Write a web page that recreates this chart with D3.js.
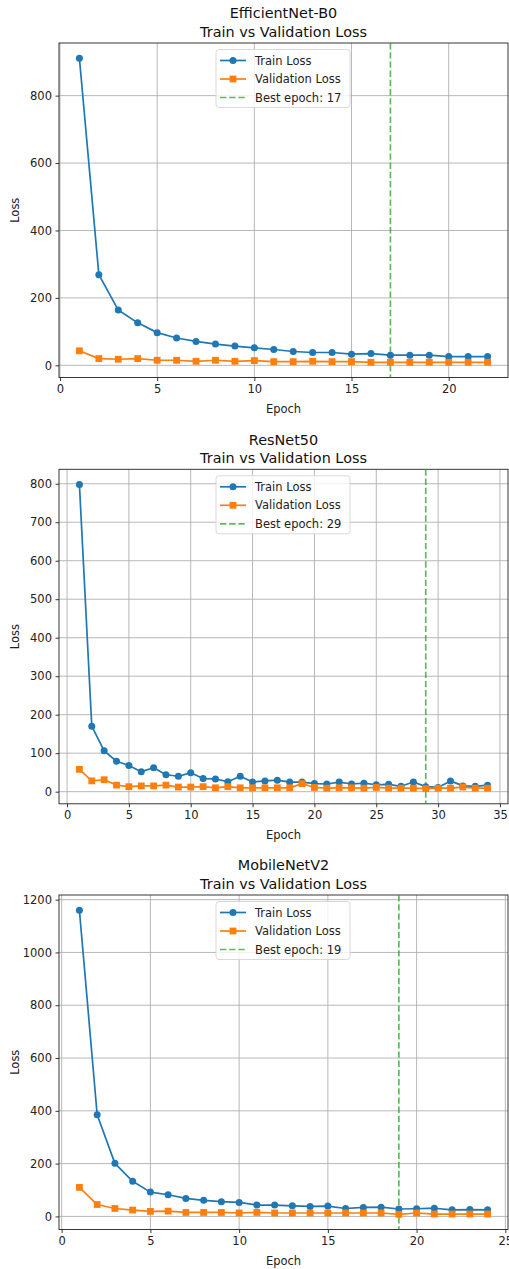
<!DOCTYPE html>
<html>
<head>
<meta charset="utf-8">
<script src="https://cdn.jsdelivr.net/npm/d3@7"></script>
<style>
  html, body { margin: 0; padding: 0; background: #ffffff; }
  svg { display: block; font-family: "DejaVu Sans", sans-serif; }
</style>
</head>
<body>
<svg id="chart" width="509" height="1269"></svg>
<script>
// ---- Loss history per model ----
const effTrain = [911, 269, 164, 126, 97, 81, 71, 63, 57, 52, 47, 41, 38, 38, 33, 35, 30, 30, 30, 26, 26, 26];
const effVal   = [43, 20, 18, 20, 15, 15, 12, 15, 12, 14, 11, 11, 12, 11, 11, 9, 9, 9, 9, 9, 9, 9];
const effBest  = 17;

const resTrain = [798, 170, 106, 79, 68, 52, 62, 44, 40, 49, 34, 33, 26, 40, 25, 28, 30, 25, 25, 21,
                  20, 25, 20, 22, 18, 19, 14, 25, 13, 11, 28, 15, 14, 17];
const resVal   = [58, 28, 31, 17, 13, 15, 15, 17, 12, 12, 13, 10, 13, 10, 10, 10, 10, 10, 21, 11,
                  9, 10, 10, 9, 11, 9, 9, 9, 8, 9, 9, 12, 9, 9];
const resBest  = 29;

const mobTrain = [1160, 385, 201, 133, 92, 82, 68, 61, 56, 53, 43, 43, 40, 38, 39, 30, 34, 35, 28, 29, 31, 25, 26, 25];
const mobVal   = [110, 45, 30, 24, 19, 20, 15, 15, 15, 13, 15, 13, 13, 13, 13, 13, 13, 13, 8, 13, 9, 9, 9, 9];
const mobBest  = 19;

// ---- Tick values ----
const effXTicks = [0, 5, 10, 15, 20];
const effYTicks = [0, 200, 400, 600, 800];
const resXTicks = [0, 5, 10, 15, 20, 25, 30, 35];
const resYTicks = [0, 100, 200, 300, 400, 500, 600, 700, 800];
const mobXTicks = [0, 5, 10, 15, 20, 25];
const mobYTicks = [0, 200, 400, 600, 800, 1000, 1200];

const panels = [
  { name: "EfficientNet-B0", train: effTrain, val: effVal, best: effBest, xTicks: effXTicks, yTicks: effYTicks, top: 43 },
  { name: "ResNet50",        train: resTrain, val: resVal, best: resBest, xTicks: resXTicks, yTicks: resYTicks, top: 469.3 },
  { name: "MobileNetV2",     train: mobTrain, val: mobVal, best: mobBest, xTicks: mobXTicks, yTicks: mobYTicks, top: 895 }
];

const BLUE = "#1f77b4", ORANGE = "#ff7f0e", GREEN = "#2ca02c";
const left = 59, right = 508, plotH = 334.5;
const tickFont = 11.5, titleFont = 14.4;

const svg = d3.select("#chart");

function padded(lo, hi) {
  const m = (hi - lo) * 0.05;
  return [lo - m, hi + m];
}

function drawMarker(g, type, cx, cy, color) {
  if (type === "circle") {
    g.append("circle").attr("cx", cx).attr("cy", cy).attr("r", 3.5).attr("fill", color);
  } else {
    g.append("rect").attr("x", cx - 3.4).attr("y", cy - 3.4)
      .attr("width", 6.8).attr("height", 6.8).attr("fill", color);
  }
}

panels.forEach(p => {
  const epochs = p.train.map((_, i) => i + 1);
  const all = p.train.concat(p.val);
  const x = d3.scaleLinear().domain(padded(1, epochs.length)).range([left, right]);
  const y = d3.scaleLinear().domain(padded(d3.min(all), d3.max(all))).range([p.top + plotH, p.top]);
  const bottom = p.top + plotH;

  const g = svg.append("g");

  // grid
  g.append("g").selectAll("line").data(p.xTicks).join("line")
    .attr("x1", d => x(d)).attr("x2", d => x(d))
    .attr("y1", p.top).attr("y2", bottom)
    .attr("stroke", "#b0b0b0").attr("stroke-width", 0.9);
  g.append("g").selectAll("line").data(p.yTicks).join("line")
    .attr("x1", left).attr("x2", right)
    .attr("y1", d => y(d)).attr("y2", d => y(d))
    .attr("stroke", "#b0b0b0").attr("stroke-width", 0.9);

  // axes
  const xAxis = d3.axisBottom(x).tickValues(p.xTicks).tickSize(3.5).tickPadding(3.5).tickFormat(d3.format("d"));
  const yAxis = d3.axisLeft(y).tickValues(p.yTicks).tickSize(3.5).tickPadding(3.5).tickFormat(d3.format("d"));
  const xa = g.append("g").attr("transform", `translate(0,${bottom})`).call(xAxis);
  const ya = g.append("g").attr("transform", `translate(${left},0)`).call(yAxis);
  [xa, ya].forEach(a => {
    a.select(".domain").remove();
    a.selectAll("line").attr("stroke", "#222").attr("stroke-width", 0.9);
    a.selectAll("text").attr("fill", "#222").style("font-size", tickFont + "px")
      .style("font-family", "DejaVu Sans, sans-serif");
  });

  // spines
  g.append("rect").attr("x", left).attr("y", p.top).attr("width", right - left).attr("height", plotH)
    .attr("fill", "none").attr("stroke", "#222").attr("stroke-width", 0.9);

  // best epoch marker line
  g.append("line").attr("x1", x(p.best)).attr("x2", x(p.best))
    .attr("y1", p.top).attr("y2", bottom)
    .attr("stroke", GREEN).attr("stroke-opacity", 0.75).attr("stroke-width", 1.7)
    .attr("stroke-dasharray", "6.4,2.8");

  // series
  const line = d3.line().x((d, i) => x(i + 1)).y(d => y(d));
  [[p.train, BLUE, "circle"], [p.val, ORANGE, "square"]].forEach(([vals, color, mk]) => {
    g.append("path").datum(vals).attr("d", line)
      .attr("fill", "none").attr("stroke", color).attr("stroke-width", 1.7)
      .attr("stroke-linejoin", "round");
    const mg = g.append("g");
    vals.forEach((v, i) => drawMarker(mg, mk, x(i + 1), y(v), color));
  });

  // titles
  const cx = (left + right) / 2;
  g.append("text").attr("x", cx).attr("y", p.top - 24.7).attr("text-anchor", "middle")
    .style("font-size", titleFont + "px").attr("fill", "#111").text(p.name);
  g.append("text").attr("x", cx).attr("y", p.top - 6.3).attr("text-anchor", "middle")
    .style("font-size", titleFont + "px").attr("fill", "#111").text("Train vs Validation Loss");

  // axis labels
  g.append("text").attr("x", cx).attr("y", bottom + 35.5).attr("text-anchor", "middle")
    .style("font-size", tickFont + "px").attr("fill", "#222").text("Epoch");
  g.append("text").attr("transform", `translate(19.3,${p.top + plotH / 2}) rotate(-90)`)
    .attr("text-anchor", "middle").style("font-size", tickFont + "px").attr("fill", "#222").text("Loss");

  // legend
  const lg = g.append("g").attr("transform", `translate(216,${p.top + 6.5})`);
  lg.append("rect").attr("width", 134).attr("height", 58).attr("rx", 3)
    .attr("fill", "#ffffff").attr("fill-opacity", 0.8).attr("stroke", "#d5d5d5").attr("stroke-width", 0.9);
  const entries = [
    { label: "Train Loss", color: BLUE, mk: "circle", dash: null },
    { label: "Validation Loss", color: ORANGE, mk: "square", dash: null },
    { label: "Best epoch: " + p.best, color: GREEN, mk: null, dash: "6.4,2.8" }
  ];
  entries.forEach((e, i) => {
    const ey = 11 + i * 18.5;
    const ln = lg.append("line").attr("x1", 4).attr("x2", 30).attr("y1", ey).attr("y2", ey)
      .attr("stroke", e.color).attr("stroke-width", 1.7);
    if (e.dash) ln.attr("stroke-dasharray", e.dash).attr("stroke-opacity", 0.75);
    if (e.mk) drawMarker(lg, e.mk, 17, ey, e.color);
    lg.append("text").attr("x", 39).attr("y", ey).attr("dy", "0.36em")
      .style("font-size", tickFont + "px").attr("fill", "#222").text(e.label);
  });
});
</script>
</body>
</html>
